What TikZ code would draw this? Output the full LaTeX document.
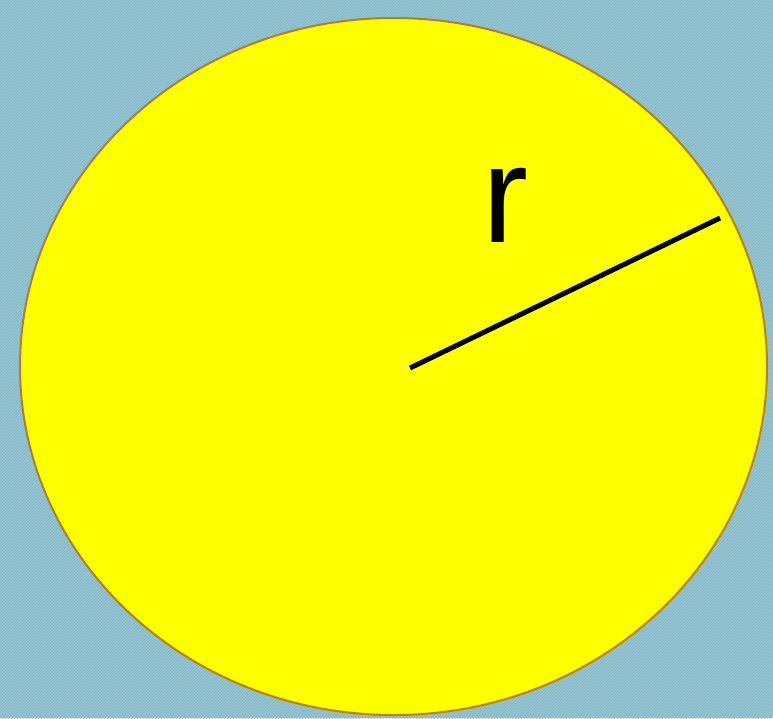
\documentclass[tikz,border=0pt]{standalone}
\usepackage{fontspec}
\setmainfont{Liberation Sans}
\usetikzlibrary{patterns}
\definecolor{bgblue}{RGB}{149,196,210}
\definecolor{stripe}{RGB}{132,182,199}
\definecolor{disk}{RGB}{255,255,0}
\definecolor{rim}{RGB}{180,130,20}
\tikzset{
  bg/.style={fill=bgblue},
  bgstripes/.style={pattern=north east lines, pattern color=stripe},
  diskshape/.style={fill=disk, draw=rim, line width=2pt},
  radius line/.style={line width=5pt, black},
  lbl/.style={font=\fontsize{138}{138}\selectfont, inner sep=0pt, text=black}
}
\begin{document}
\begin{tikzpicture}[x=1pt,y=-1pt]
\useasboundingbox (0,0) rectangle (773,718);
\fill[bg] (0,0) rectangle (773,718);
\fill[bgstripes] (0,0) rectangle (773,718);
\draw[diskshape] (393.5,366.5) ellipse [x radius=373.5, y radius=348.5];
\coordinate (c) at (410,368);
\coordinate (e) at (720,218);
\draw[radius line] (c) -- (e);
\node[lbl] (r) at (505,205) {r};
\end{tikzpicture}
\end{document}
